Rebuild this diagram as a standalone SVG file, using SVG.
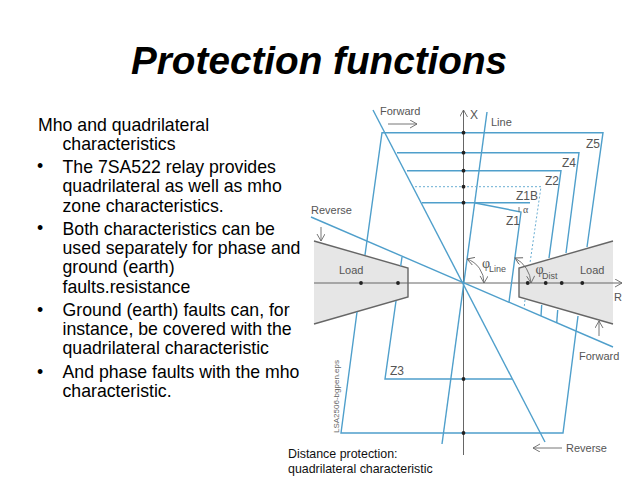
<svg xmlns="http://www.w3.org/2000/svg" width="638" height="479" viewBox="0 0 638 479">
<style>
text{font-family:"Liberation Sans",Arial,sans-serif}
.b{font-size:17.7px;fill:#000}
.l{font-size:11px;fill:#555}
.z2{font-size:12px;fill:#555}
.s{font-size:9px;fill:#555}
.c{font-size:12.4px;fill:#111}
.z{fill:none;stroke:#4f9fcb;stroke-width:1.4}
.d{fill:none;stroke:#6aaed3;stroke-width:1;stroke-dasharray:2 2}
.g{fill:none;stroke:#666;stroke-width:1}
.a{fill:none;stroke:#666;stroke-width:.9}
.load{fill:#e6e6e6;stroke:none}
.e{fill:none;stroke:#666;stroke-width:1.4}
.p{font-family:"Liberation Serif",serif;font-size:14px;fill:#555}
</style>
<defs><marker id="ah" markerWidth="10" markerHeight="10" refX="8" refY="4" orient="auto-start-reverse" markerUnits="userSpaceOnUse"><path d="M1 0L8 4L1 8" fill="none" stroke="#666" stroke-width=".9"/></marker>
<circle id="dot" r="1.9" fill="#222"/></defs>
<rect width="638" height="479" fill="#fff"/>
<text id="title" x="131" y="74" font-size="38.700" font-weight="bold" font-style="italic" fill="#000">Protection functions</text>
<g id="body">
<text class="b" x="38" y="131">Mho and quadrilateral</text>
<text class="b" x="62.500" y="150">characteristics</text>
<text class="b" x="37" y="171.500">•</text>
<text class="b" x="62.500" y="172.500">The 7SA522 relay provides</text>
<text class="b" x="62.500" y="192">quadrilateral as well as mho</text>
<text class="b" x="62.500" y="211.500">zone characteristics.</text>
<text class="b" x="37" y="233.500">•</text>
<text class="b" x="62.500" y="234.500">Both characteristics can be</text>
<text class="b" x="62.500" y="254">used separately for phase and</text>
<text class="b" x="62.500" y="273">ground (earth)</text>
<text class="b" x="62.500" y="293">faults.resistance</text>
<text class="b" x="37" y="315.500">•</text>
<text class="b" x="62.500" y="316">Ground (earth) faults can, for</text>
<text class="b" x="62.500" y="335">instance, be covered with the</text>
<text class="b" x="62.500" y="354">quadrilateral characteristic</text>
<text class="b" x="37" y="377.500">•</text>
<text class="b" x="62.500" y="378">And phase faults with the mho</text>
<text class="b" x="62.500" y="397">characteristic.</text>
</g>
<g id="load-left"><path class="load" d="M314 241L408 268V297L314 324Z"/><path class="e" d="M314 241L408 268V297L314 324"/><text class="l" x="339" y="274">Load</text></g>
<g id="load-right"><path class="load" d="M613 241L519 268V297L613 324Z"/><path class="e" d="M613 241L519 268V297L613 324"/><text class="l" x="580" y="274">Load</text></g>
<g id="connectors">
<path class="g" d="M463.500 455V110" marker-end="url(#ah)"/>
<path class="g" d="M314 283H622" marker-end="url(#ah)"/>
<path class="z" d="M373 110L545 442"/>
<path class="z" d="M487 112L442 444"/>
<path class="z" d="M311 217L613 347"/>
<path class="z" d="M365 255L382 132.700H603L587 247"/>
<path class="z" d="M357 312L341 433H563L578 316"/>
<path class="z" d="M397 152.700H579L566 253"/>
<path class="z" d="M407 170.700H561L549 258"/>
<path class="d" d="M415 186.700H541L530 263"/>
<path class="z" d="M422 202.700H530"/>
<path class="z" d="M474 202.700L521 212L509 302"/>
<path class="z" d="M402 257L400.700 266"/>
<path class="z" d="M396 301L385 379H512"/>
<path class="d" d="M525 300L524 309"/>
<path class="z" d="M541.700 305L541 316"/>
<path class="z" d="M557.700 310L556.700 323"/>
<path class="a" d="M388 124H417" marker-end="url(#ah)"/>
<path class="a" d="M321 227V241" marker-end="url(#ah)"/>
<path class="a" d="M599 336V321" marker-end="url(#ah)"/>
<path class="a" d="M562 448H533" marker-end="url(#ah)"/>
<path class="a" d="M484 283A25 25 0 0 0 467 259" marker-end="url(#ah)" marker-start="url(#ah)"/>
<path class="a" d="M531 283A30 30 0 0 0 515 258" marker-end="url(#ah)" marker-start="url(#ah)"/>
<path class="a" d="M519 212V207"/>
</g>
<g id="dots">
<use href="#dot" x="463.500" y="132.700"/><use href="#dot" x="463.500" y="152.700"/><use href="#dot" x="463.500" y="170.700"/><use href="#dot" x="463.500" y="186.700"/><use href="#dot" x="463.500" y="202.700"/><use href="#dot" x="463.500" y="379"/><use href="#dot" x="463.500" y="433"/>
<use href="#dot" x="361" y="283"/><use href="#dot" x="398" y="283"/><use href="#dot" x="527.700" y="283"/><use href="#dot" x="545.700" y="283"/><use href="#dot" x="561.700" y="283"/><use href="#dot" x="582.300" y="283"/>
</g>
<g id="labels">
<text class="l" x="380" y="115">Forward</text>
<text class="l" x="491" y="126">Line</text>
<text class="z2" x="470" y="119">X</text>
<text class="z2" x="586" y="148">Z5</text>
<text class="z2" x="562" y="167">Z4</text>
<text class="z2" x="545" y="185">Z2</text>
<text class="z2" x="516" y="199.500">Z1B</text>
<text class="p" x="523" y="212.500" style="font-size:10px">α</text>
<text class="z2" x="506" y="225">Z1</text>
<text class="l" x="311" y="214">Reverse</text>
<text class="p" x="482" y="268">φ</text>
<text class="s" x="489" y="271.500">Line</text>
<text class="p" x="535.500" y="274">φ</text>
<text class="s" x="542" y="278.500">Dist</text>
<text class="l" x="614" y="301">R</text>
<text class="z2" x="390" y="375">Z3</text>
<text class="l" x="579" y="360">Forward</text>
<text class="l" x="566" y="452">Reverse</text>
<text x="339" y="433" transform="rotate(-90 339 433)" font-size="8" fill="#666">LSA2506-bgpen.eps</text>
<text class="c" x="288" y="458">Distance protection:</text>
<text class="c" x="288" y="473">quadrilateral characteristic</text>
</g>
</svg>
